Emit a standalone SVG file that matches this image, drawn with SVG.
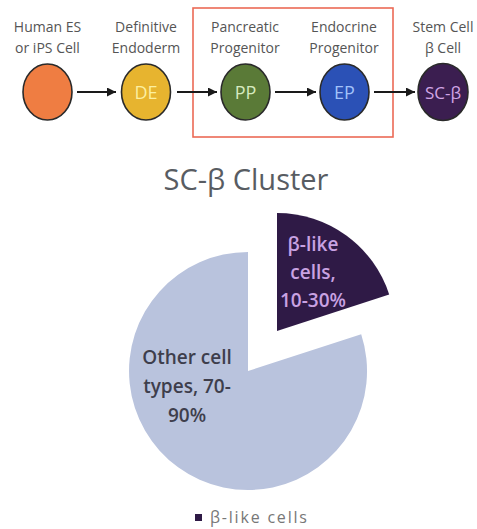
<svg xmlns="http://www.w3.org/2000/svg" width="477" height="529" viewBox="0 0 477 529">
<defs>
<marker id="ah" viewBox="0 0 10 10" refX="10" refY="5" markerWidth="4.5" markerHeight="4.5" orient="auto" markerUnits="strokeWidth">
<path d="M0,0 L10,5 L0,10 Z" fill="#1a1a1a"/>
</marker>
<style>
.lbl{font-family:"Open Sans","DejaVu Sans",sans-serif;font-size:14px;fill:#555;text-anchor:middle}
.cell{stroke:#2a2a2a;stroke-width:1.6}
.in{font-family:"Open Sans","DejaVu Sans",sans-serif;font-size:18px;text-anchor:middle}
.conn{stroke:#1a1a1a;stroke-width:2;fill:none;marker-end:url(#ah)}
.pl{font-family:"Open Sans","DejaVu Sans",sans-serif;font-size:19px;font-weight:600;text-anchor:middle}
</style>
</defs>
<rect width="477" height="529" fill="#fff"/>
<rect id="highlight-box" x="193" y="8" width="200" height="129" fill="none" stroke="#ec6a55" stroke-width="1.6"/>
<g id="node-es">
<text class="lbl" x="47.5" y="32">Human ES</text>
<text class="lbl" x="47.5" y="53">or iPS Cell</text>
<ellipse class="cell" cx="47.5" cy="92" rx="24.5" ry="28" fill="#ef7d42"/>
</g>
<g id="node-de">
<text class="lbl" x="146" y="32">Definitive</text>
<text class="lbl" x="146" y="53">Endoderm</text>
<ellipse class="cell" cx="146" cy="92" rx="24.5" ry="28" fill="#e7b42f"/>
<text class="in" x="146" y="99" fill="#fcefa0">DE</text>
</g>
<g id="node-pp">
<text class="lbl" x="245" y="32">Pancreatic</text>
<text class="lbl" x="245" y="53">Progenitor</text>
<ellipse class="cell" cx="245.5" cy="92" rx="24.5" ry="28" fill="#5a7a37"/>
<text class="in" x="245.5" y="99" fill="#d6eac0">PP</text>
</g>
<g id="node-ep">
<text class="lbl" x="344" y="32">Endocrine</text>
<text class="lbl" x="344" y="53">Progenitor</text>
<ellipse class="cell" cx="344.5" cy="92" rx="24.5" ry="28" fill="#2b51b6"/>
<text class="in" x="344.5" y="99" fill="#a2c2fa">EP</text>
</g>
<g id="node-scb">
<text class="lbl" x="443" y="32">Stem Cell</text>
<text class="lbl" x="443" y="53">β Cell</text>
<ellipse class="cell" cx="443" cy="92" rx="25" ry="28.5" fill="#3b1e50"/>
<text class="in" x="443" y="99" fill="#d2a6e6" style="font-size:17px">SC-β</text>
</g>
<g id="connectors">
<line class="conn" x1="77" y1="92" x2="116" y2="92"/>
<line class="conn" x1="177" y1="92" x2="217" y2="92"/>
<line class="conn" x1="275" y1="92" x2="316" y2="92"/>
<line class="conn" x1="374" y1="92" x2="415" y2="92"/>
</g>
<g id="chart">
<text x="246" y="190" style="font-family:'Open Sans','DejaVu Sans',sans-serif;font-size:29px;fill:#585c62;text-anchor:middle">SC-β Cluster</text>
<g id="slice-other">
<path d="M248,371 L361.2,334.2 A119,119 0 1,1 248,252 Z" fill="#b9c3dd"/>
<text class="pl" x="187" y="364" fill="#3e3e4c">Other cell</text>
<text class="pl" x="187" y="393" fill="#3e3e4c">types, 70-</text>
<text class="pl" x="187" y="422" fill="#3e3e4c">90%</text>
</g>
<g id="slice-beta">
<path d="M277,331 L277,213 A118,118 0 0,1 389.2,294.5 Z" fill="#2f1a46"/>
<text class="pl" x="313" y="251" fill="#c9a2e2">β-like</text>
<text class="pl" x="313" y="279" fill="#c9a2e2">cells,</text>
<text class="pl" x="313" y="307" fill="#c9a2e2">10-30%</text>
</g>
<g id="legend">
<rect x="195" y="514" width="7" height="7" fill="#2f1a46"/>
<text x="210" y="523" style="font-family:'Open Sans','DejaVu Sans',sans-serif;font-size:16px;fill:#777;letter-spacing:1.8px">β-like cells</text>
</g>
</g>
</svg>
